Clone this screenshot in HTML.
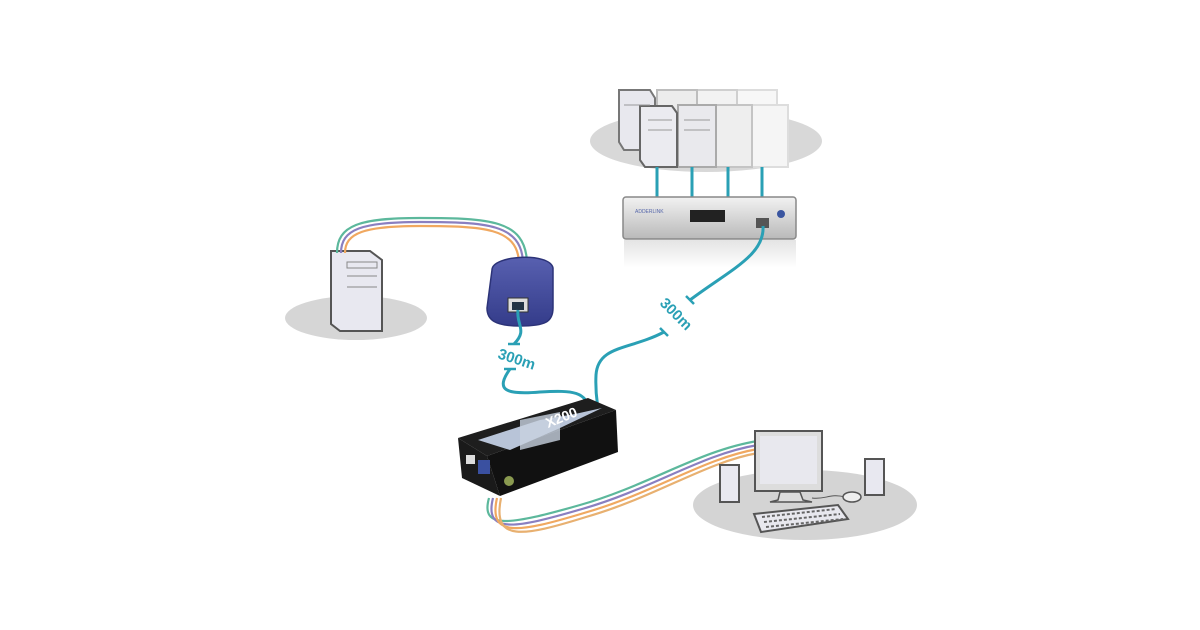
<!DOCTYPE html>
<html><head><meta charset="utf-8"><style>html,body{margin:0;padding:0;background:#fff}svg{display:block}</style></head>
<body>
<svg width="1200" height="630" viewBox="0 0 1200 630" xmlns="http://www.w3.org/2000/svg" font-family="Liberation Sans, sans-serif">
<defs>
<linearGradient id="bx" x1="0" y1="0" x2="0" y2="1"><stop offset="0" stop-color="#f2f2f2"/><stop offset="1" stop-color="#b9b9b9"/></linearGradient>
<linearGradient id="refl" x1="0" y1="0" x2="0" y2="1"><stop offset="0" stop-color="#e4e4e4"/><stop offset="1" stop-color="#fff"/></linearGradient>
<linearGradient id="blu" x1="0" y1="0" x2="0" y2="1"><stop offset="0" stop-color="#5860b0"/><stop offset="1" stop-color="#343c8a"/></linearGradient>
</defs>
<!-- ellipses -->
<ellipse cx="356" cy="318" rx="71" ry="22" fill="#d6d6d6"/>
<ellipse cx="706" cy="141" rx="116" ry="31" fill="#d8d8d8"/>
<ellipse cx="805" cy="505" rx="112" ry="35" fill="#d4d4d4"/>

<!-- servers back row -->
<g stroke-width="2">
<rect x="737" y="90" width="40" height="62" fill="#f7f7f7" stroke="#ddd"/>
<rect x="697" y="90" width="40" height="62" fill="#f2f2f2" stroke="#cfcfcf"/>
<rect x="657" y="90" width="40" height="62" fill="#ececec" stroke="#bdbdbd"/>
<polygon points="619,90 650,90 655,98 655,150 624,150 619,142" fill="#e8e8ee" stroke="#777"/>
<rect x="752" y="105" width="36" height="62" fill="#f5f5f5" stroke="#ddd"/>
<rect x="716" y="105" width="36" height="62" fill="#eeeeee" stroke="#c4c4c4"/>
<rect x="678" y="105" width="38" height="62" fill="#e9e9ed" stroke="#aaa"/>
<polygon points="640,106 672,106 677,113 677,167 645,167 640,160" fill="#ebebf0" stroke="#666"/>
</g>
<g stroke="#999" stroke-width="1"><line x1="648" y1="120" x2="672" y2="120"/><line x1="648" y1="130" x2="672" y2="130"/><line x1="684" y1="120" x2="710" y2="120"/><line x1="684" y1="130" x2="710" y2="130"/><line x1="624" y1="105" x2="650" y2="105"/></g>
<!-- server lines -->
<g stroke="#2aa0b5" stroke-width="3"><line x1="657" y1="167" x2="657" y2="198"/><line x1="692" y1="167" x2="692" y2="198"/><line x1="728" y1="167" x2="728" y2="198"/><line x1="762" y1="167" x2="762" y2="198"/></g>
<!-- switch -->
<rect x="624" y="240" width="172" height="28" fill="url(#refl)"/>
<rect x="623" y="197" width="173" height="42" rx="3" fill="url(#bx)" stroke="#888" stroke-width="1.5"/>
<rect x="690" y="210" width="35" height="12" fill="#222"/>
<rect x="756" y="218" width="13" height="10" fill="#555"/>
<circle cx="781" cy="214" r="4" fill="#3a55a0"/>
<text x="635" y="213" font-size="5" fill="#5566aa">ADDERLINK</text>

<!-- PC tower -->
<polygon points="331,251 370,251 382,260 382,331 340,331 331,324" fill="#e8e8f0" stroke="#555" stroke-width="2"/>
<g stroke="#888" fill="none"><rect x="347" y="262" width="30" height="6"/><line x1="347" y1="276" x2="377" y2="276"/><line x1="347" y1="287" x2="377" y2="287"/></g>
<!-- cables PC to dongle -->
<g fill="none" stroke-width="2.2">
<path d="M337,253 C337,225 360,218 420,218 C490,218 525,220 527,262" stroke="#5cb89c"/>
<path d="M341,253 C341,229 362,222 420,222 C487,222 521,224 523,262" stroke="#8a7fc0"/>
<path d="M345,253 C345,233 364,226 420,226 C484,226 517,228 519,262" stroke="#f0a860"/>
</g>
<!-- dongle -->
<path d="M492,270 C492,255 550,252 553,268 L553,308 C553,322 545,326 520,326 C495,326 487,320 487,308 Z" fill="url(#blu)" stroke="#2c3378" stroke-width="1.5"/>
<rect x="508" y="298" width="20" height="14" fill="#ddd" stroke="#333"/>
<rect x="512" y="302" width="12" height="8" fill="#234"/>

<!-- teal cables -->
<g fill="none" stroke="#2aa0b5" stroke-width="3">
<path d="M518,310 C516,325 528,330 514,344"/>
<path d="M510,369 C495,390 505,395 540,392 C575,390 585,392 590,410"/>
<path d="M763,226 C765,255 730,270 690,300"/>
<path d="M664,332 C630,350 598,345 596,375 C595,395 598,405 598,410"/>
</g>
<g stroke="#2aa0b5" stroke-width="2.5"><line x1="508" y1="344" x2="520" y2="344"/><line x1="504" y1="369" x2="516" y2="369"/><line x1="686" y1="296" x2="694" y2="304"/><line x1="660" y1="328" x2="668" y2="336"/></g>
<text x="0" y="0" font-size="15" font-weight="bold" fill="#2aa0b5" transform="translate(497,358) rotate(18)">300m</text>
<text x="0" y="0" font-size="15" font-weight="bold" fill="#2aa0b5" transform="translate(659,304) rotate(45)">300m</text>

<!-- colored cables box to monitor -->
<g fill="none" stroke-width="2.2">
<path d="M489,498 C480,530 510,525 580,505 C650,485 700,450 758,441" stroke="#5cb89c"/>
<path d="M493,498 C484,534 514,529 582,509 C652,489 702,454 758,445" stroke="#8a7fc0"/>
<path d="M497,498 C488,538 518,533 584,513 C654,493 704,458 758,449" stroke="#f0a860"/>
<path d="M501,498 C492,542 522,537 586,517 C656,497 706,462 758,453" stroke="#e8b070"/>
</g>

<!-- X200 box -->
<polygon points="458,438 588,398 616,410 487,456" fill="#1e1e1e"/>
<polygon points="487,456 616,410 618,452 500,496" fill="#111"/>
<polygon points="458,438 487,456 500,496 462,478" fill="#1a1a1a"/>
<polygon points="478,440 540,420 575,414 602,408 560,428 510,450" fill="#b8c4d8"/>
<polygon points="520,420 560,412 560,440 520,450" fill="#c8d2e0" opacity="0.8"/>
<text x="0" y="0" font-size="14" font-weight="bold" fill="#fff" transform="translate(548,428) rotate(-22)">X200</text>
<rect x="466" y="455" width="9" height="9" fill="#ddd"/>
<rect x="478" y="460" width="12" height="14" fill="#3a50a0"/>
<circle cx="509" cy="481" r="5" fill="#8a9a50"/>

<!-- desktop -->
<rect x="720" y="465" width="19" height="37" fill="#e8e8f0" stroke="#555" stroke-width="2"/>
<rect x="865" y="459" width="19" height="36" fill="#e8e8f0" stroke="#555" stroke-width="2"/>
<polygon points="780,492 800,492 803,500 812,502 770,502 778,500" fill="#ddd" stroke="#555" stroke-width="1.5"/>
<rect x="755" y="431" width="67" height="60" fill="#ddd" stroke="#555" stroke-width="2"/>
<rect x="760" y="436" width="57" height="48" fill="#e8e8ee"/>
<path d="M812,498 C825,500 830,493 845,497" stroke="#555" fill="none"/>
<ellipse cx="852" cy="497" rx="9" ry="5" fill="#eee" stroke="#555" stroke-width="1.5"/>
<polygon points="754,514 838,505 848,519 761,532" fill="#e8e8ee" stroke="#555" stroke-width="2"/>
<g stroke="#666" stroke-width="2" stroke-dasharray="3,2"><line x1="762" y1="517" x2="836" y2="509"/><line x1="764" y1="522" x2="840" y2="514"/><line x1="766" y1="527" x2="843" y2="519"/></g>
</svg>
</body></html>
